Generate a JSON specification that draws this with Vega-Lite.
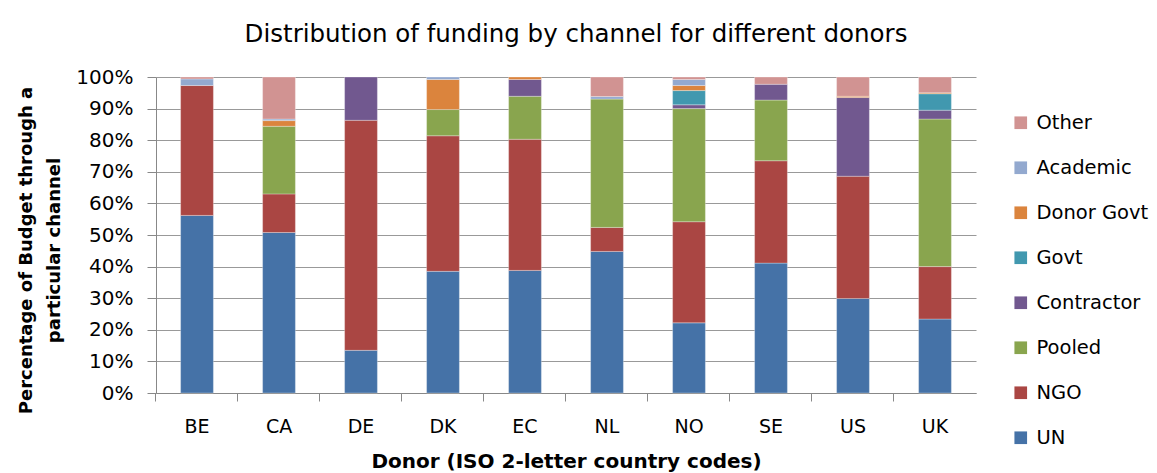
{
  "$schema": "https://vega.github.io/schema/vega-lite/v6.json",
  "autosize": {"type": "none"},
  "padding": {"left": 156, "top": 77, "right": 181, "bottom": 80},
  "width": 820,
  "height": 316,
  "background": "white",
  "title": {
    "text": "Distribution of funding by channel for different donors",
    "font": "DejaVu Sans",
    "fontSize": 24.5,
    "fontWeight": "normal",
    "color": "#000000",
    "offset": 20,
    "anchor": "middle",
    "dx": 10
  },
  "data": {
    "values": [
      {"donor": "BE", "channel": "UN", "ord": 1, "pct": 56.2},
      {"donor": "BE", "channel": "NGO", "ord": 2, "pct": 41.1},
      {"donor": "BE", "channel": "Academic", "ord": 7, "pct": 2.1},
      {"donor": "BE", "channel": "Other", "ord": 8, "pct": 0.6},
      {"donor": "CA", "channel": "UN", "ord": 1, "pct": 50.8},
      {"donor": "CA", "channel": "NGO", "ord": 2, "pct": 12.2},
      {"donor": "CA", "channel": "Pooled", "ord": 3, "pct": 21.4},
      {"donor": "CA", "channel": "Donor Govt", "ord": 6, "pct": 1.8},
      {"donor": "CA", "channel": "Academic", "ord": 7, "pct": 0.5},
      {"donor": "CA", "channel": "Other", "ord": 8, "pct": 13.3},
      {"donor": "DE", "channel": "UN", "ord": 1, "pct": 13.5},
      {"donor": "DE", "channel": "NGO", "ord": 2, "pct": 72.8},
      {"donor": "DE", "channel": "Contractor", "ord": 4, "pct": 13.7},
      {"donor": "DK", "channel": "UN", "ord": 1, "pct": 38.5},
      {"donor": "DK", "channel": "NGO", "ord": 2, "pct": 42.9},
      {"donor": "DK", "channel": "Pooled", "ord": 3, "pct": 8.3},
      {"donor": "DK", "channel": "Donor Govt", "ord": 6, "pct": 9.5},
      {"donor": "DK", "channel": "Academic", "ord": 7, "pct": 0.8},
      {"donor": "EC", "channel": "UN", "ord": 1, "pct": 38.8},
      {"donor": "EC", "channel": "NGO", "ord": 2, "pct": 41.5},
      {"donor": "EC", "channel": "Pooled", "ord": 3, "pct": 13.6},
      {"donor": "EC", "channel": "Contractor", "ord": 4, "pct": 5.3},
      {"donor": "EC", "channel": "Donor Govt", "ord": 6, "pct": 0.8},
      {"donor": "NL", "channel": "UN", "ord": 1, "pct": 44.8},
      {"donor": "NL", "channel": "NGO", "ord": 2, "pct": 7.6},
      {"donor": "NL", "channel": "Pooled", "ord": 3, "pct": 40.6},
      {"donor": "NL", "channel": "Academic", "ord": 7, "pct": 0.8},
      {"donor": "NL", "channel": "Other", "ord": 8, "pct": 6.2},
      {"donor": "NO", "channel": "UN", "ord": 1, "pct": 22.2},
      {"donor": "NO", "channel": "NGO", "ord": 2, "pct": 32.0},
      {"donor": "NO", "channel": "Pooled", "ord": 3, "pct": 35.8},
      {"donor": "NO", "channel": "Contractor", "ord": 4, "pct": 1.2},
      {"donor": "NO", "channel": "Govt", "ord": 5, "pct": 4.5},
      {"donor": "NO", "channel": "Donor Govt", "ord": 6, "pct": 1.6},
      {"donor": "NO", "channel": "Academic", "ord": 7, "pct": 1.9},
      {"donor": "NO", "channel": "Other", "ord": 8, "pct": 0.8},
      {"donor": "SE", "channel": "UN", "ord": 1, "pct": 41.1},
      {"donor": "SE", "channel": "NGO", "ord": 2, "pct": 32.4},
      {"donor": "SE", "channel": "Pooled", "ord": 3, "pct": 19.2},
      {"donor": "SE", "channel": "Contractor", "ord": 4, "pct": 5.0},
      {"donor": "SE", "channel": "Other", "ord": 8, "pct": 2.3},
      {"donor": "US", "channel": "UN", "ord": 1, "pct": 29.9},
      {"donor": "US", "channel": "NGO", "ord": 2, "pct": 38.7},
      {"donor": "US", "channel": "Contractor", "ord": 4, "pct": 24.9},
      {"donor": "US", "channel": "Donor Govt", "ord": 6, "pct": 0.4},
      {"donor": "US", "channel": "Other", "ord": 8, "pct": 6.1},
      {"donor": "UK", "channel": "UN", "ord": 1, "pct": 23.4},
      {"donor": "UK", "channel": "NGO", "ord": 2, "pct": 16.6},
      {"donor": "UK", "channel": "Pooled", "ord": 3, "pct": 46.7},
      {"donor": "UK", "channel": "Contractor", "ord": 4, "pct": 2.8},
      {"donor": "UK", "channel": "Govt", "ord": 5, "pct": 5.2},
      {"donor": "UK", "channel": "Donor Govt", "ord": 6, "pct": 0.3},
      {"donor": "UK", "channel": "Other", "ord": 8, "pct": 5.0}
    ]
  },
  "mark": {"type": "bar", "stroke": "white", "strokeWidth": 0.6, "strokeOpacity": 0.5},
  "encoding": {
    "x": {
      "field": "donor",
      "type": "nominal",
      "sort": ["BE", "CA", "DE", "DK", "EC", "NL", "NO", "SE", "US", "UK"],
      "scale": {"paddingInner": 0.6, "paddingOuter": 0.3},
      "axis": {
        "title": "Donor (ISO 2-letter country codes)",
        "titleFont": "DejaVu Sans",
        "titleFontSize": 20,
        "titleFontWeight": "bold",
        "titleColor": "#000000",
        "titlePadding": 15,
        "labelFont": "DejaVu Sans",
        "labelFontSize": 19,
        "labelColor": "#000000",
        "labelAngle": 0,
        "labelPadding": 16,
        "bandPosition": -0.75,
        "labelOffset": 0,
        "tickSize": 8,
        "tickColor": "#888888",
        "domainColor": "#888888",
        "grid": false
      }
    },
    "y": {
      "field": "pct",
      "type": "quantitative",
      "stack": "normalize",
      "scale": {"domain": [0, 1], "nice": false},
      "axis": {
        "title": ["Percentage of Budget through a", "particular channel"],
        "titleFont": "DejaVu Sans",
        "titleFontSize": 18,
        "titleFontWeight": "bold",
        "titleColor": "#000000",
        "titlePadding": 12,
        "titleLineHeight": 28,
        "titleY": 173,
        "format": ".0%",
        "values": [0, 0.1, 0.2, 0.3, 0.4, 0.5, 0.6, 0.7, 0.8, 0.9, 1],
        "labelFont": "DejaVu Sans",
        "labelFontSize": 20,
        "labelColor": "#000000",
        "labelPadding": 14,
        "tickSize": 9,
        "tickColor": "#888888",
        "domainColor": "#888888",
        "grid": true,
        "gridColor": "#999999",
        "gridWidth": 1
      }
    },
    "color": {
      "field": "channel",
      "type": "nominal",
      "scale": {
        "domain": ["Other", "Academic", "Donor Govt", "Govt", "Contractor", "Pooled", "NGO", "UN"],
        "range": ["#D19392", "#93A9CF", "#DB843D", "#4198AF", "#71588F", "#89A54E", "#AA4643", "#4572A7"]
      },
      "legend": {
        "title": null,
        "orient": "none",
        "legendX": 855,
        "legendY": 36,
        "symbolType": "square",
        "symbolSize": 160,
        "symbolStrokeWidth": 0,
        "labelFont": "DejaVu Sans",
        "labelFontSize": 19.5,
        "labelColor": "#000000",
        "labelOffset": 6,
        "rowPadding": 24
      }
    },
    "order": {"field": "ord", "type": "quantitative"}
  },
  "config": {"view": {"stroke": null}}
}
